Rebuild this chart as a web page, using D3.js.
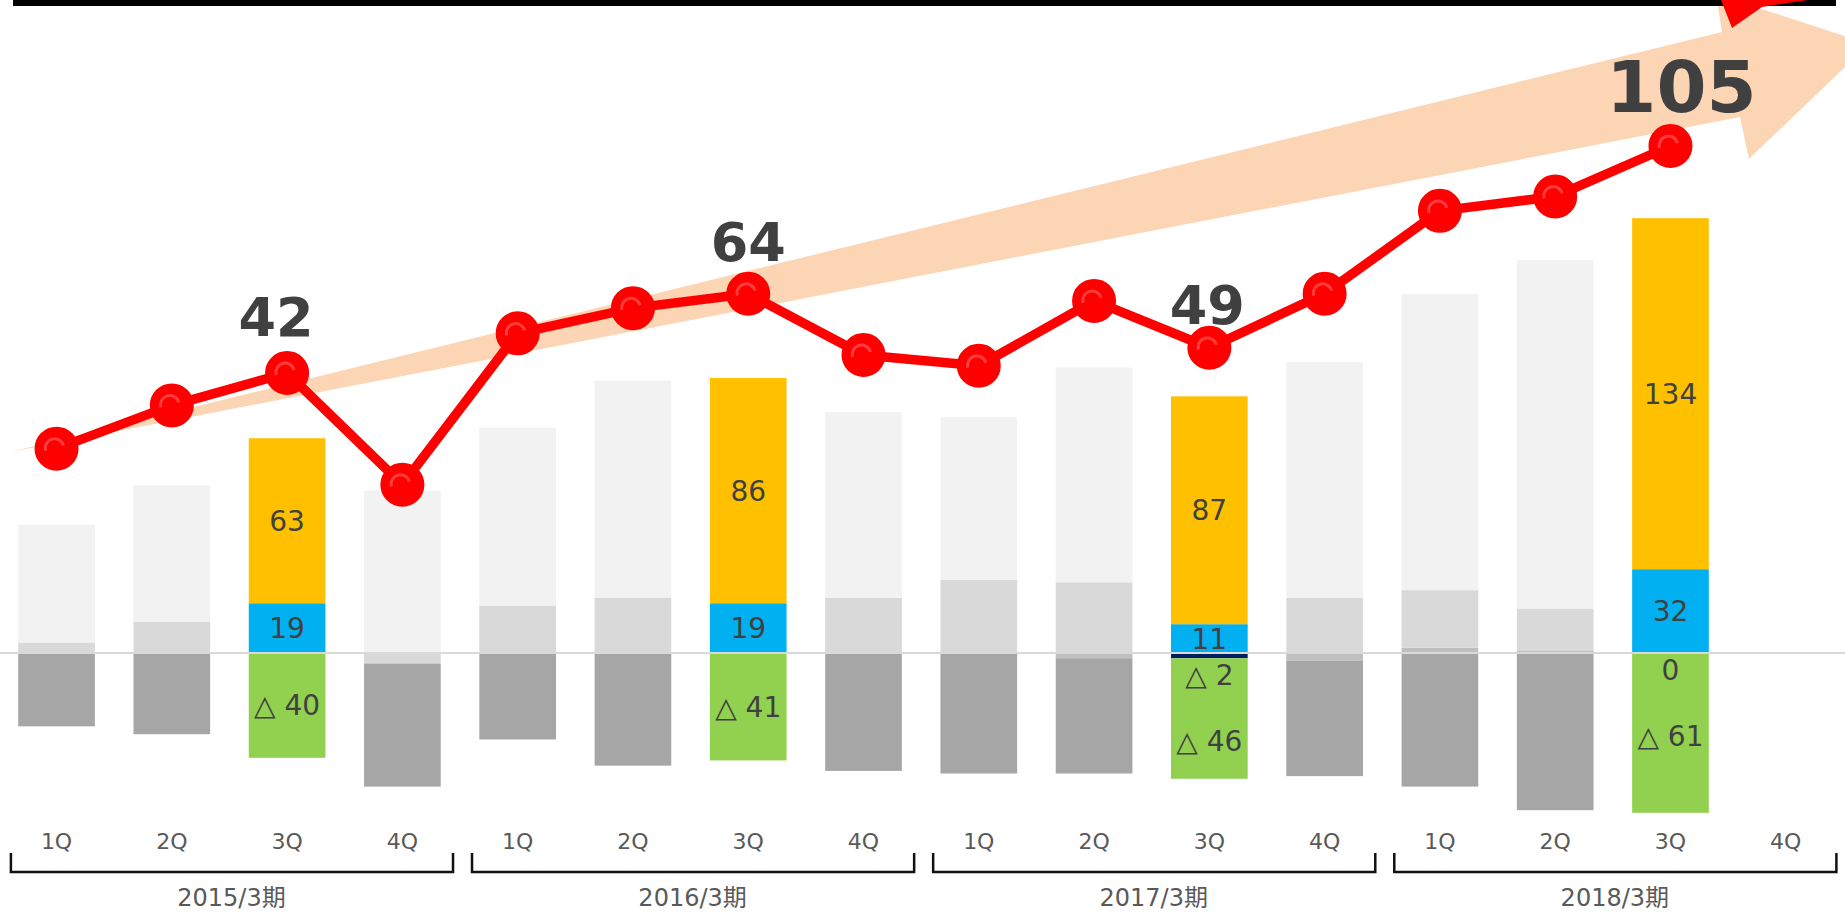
<!DOCTYPE html>
<html>
<head>
<meta charset="utf-8">
<script src="https://cdn.jsdelivr.net/npm/d3@7"></script>
<style>
  body { margin: 0; background: #fff; }
  svg { display: block; }
  text { font-family: "DejaVu Sans", "Noto Sans CJK JP", sans-serif; }
</style>
</head>
<body>
<svg class="chart"></svg>
<script>
// quarter labels and fiscal years
const quarters = ["1Q","2Q","3Q","4Q","1Q","2Q","3Q","4Q","1Q","2Q","3Q","4Q","1Q","2Q","3Q","4Q"];
const years = ["2015/3期","2016/3期","2017/3期","2018/3期"];

// stacked segments per quarter (null = no data)
const segA = [45, 52, 63, 62, 68, 83, 86, 71, 62, 82, 87, 90, 113, 133, 134, null];
const segB = [4, 12, 19, -4, 18, 21, 19, 21, 28, 27, 11, 21, 22, 16, 32, null];
const segC = [0, 0, null, 0, 0, 0, null, 0, 0, -2, -2, -3, 2, 1, 0, null];
const segD = [-28, -31, -40, -47, -33, -43, -41, -45, -46, -44, -46, -44, -51, -60, -61, null];

// total per quarter (red line, own scale)
const total = [21, 33, 42, 11, 53, 60, 64, 47, 44, 62, 49, 64, 87, 91, 105, null];

const width = 1845, height = 916;

const svg = d3.select(".chart")
  .attr("width", width)
  .attr("height", height);

// scales
const x = d3.scaleBand()
  .domain(d3.range(quarters.length))
  .range([-1.1, 1843.4])
  .paddingInner(0.335)
  .paddingOuter(0.1675);

const yBar = d3.scaleLinear().domain([-61, 166]).range([812.8, 218.2]);
const yLine = d3.scaleLinear().domain([0, 105]).range([524.3, 146]);

const hiColors = { A: "#ffc000", B: "#00b0f0", C: "#002060", D: "#92d050" };
const loColors = { A: "#f2f2f2", B: "#d9d9d9", C: "#bfbfbf", D: "#a6a6a6" };
const isHi = i => quarters[i] === "3Q" && segA[i] !== null;

// big background arrow
svg.append("path")
  .attr("d", "M10,452 L1740,117 L1749,159 L1869,44 L1716,-6 L1722,32 Z")
  .attr("fill", "#fcd5b5");

// top rule
svg.append("rect")
  .attr("x", 13).attr("y", 0)
  .attr("width", 1823).attr("height", 6)
  .attr("fill", "#000");

// tip of red arrow at the top
svg.append("path")
  .attr("d", "M1721,0 L1732,28 L1762,7 Q1786,3 1808,0 Z")
  .attr("fill", "#ff0000");

// stacked bars
const rows = d3.range(quarters.length).map(i => ({
  i: i,
  A: segA[i] ?? 0, B: segB[i] ?? 0, C: segC[i] ?? 0, D: segD[i] ?? 0
}));

const stacked = d3.stack()
  .keys(["C", "B", "A", "D"])
  .offset(d3.stackOffsetDiverging)(rows);

svg.append("g").selectAll("g")
  .data(stacked)
  .enter()
  .append("g")
  .each(function (s) {
    d3.select(this).selectAll("rect")
      .data(s.filter(d => d[1] !== d[0]))
      .enter()
      .append("rect")
        .attr("x", d => x(d.data.i))
        .attr("width", x.bandwidth())
        .attr("y", d => yBar(Math.max(d[0], d[1])))
        .attr("height", d => Math.abs(yBar(d[0]) - yBar(d[1])))
        .attr("fill", d => (isHi(d.data.i) ? hiColors : loColors)[s.key]);
  });

// zero line
svg.append("line")
  .attr("x1", 0).attr("x2", width)
  .attr("y1", yBar(0)).attr("y2", yBar(0))
  .attr("stroke", "#d9d9d9")
  .attr("stroke-width", 2);

// value labels inside highlighted bars
const fmt = v => v < 0 ? "△ " + (-v) : String(v);
const labels = [];
stacked.forEach(s => {
  s.forEach(d => {
    const i = d.data.i;
    if (!isHi(i)) return;
    const v = { A: segA, B: segB, C: segC, D: segD }[s.key][i];
    if (v === null) return;
    labels.push({ key: s.key, i: i, v: v, y0: d[0], y1: d[1] });
  });
});
labels.forEach(l => {
  const mid = (yBar(l.y0) + yBar(l.y1)) / 2;
  if (l.key === "C") {
    l.cy = Math.max(yBar(l.y0), yBar(l.y1)) + 17;
  } else {
    l.cy = mid;
  }
});
labels.forEach(l => {
  if (l.key === "D") {
    const c = labels.find(o => o.key === "C" && o.i === l.i);
    if (c) l.cy = Math.max(l.cy, c.cy + 66);
  }
});

svg.append("g").selectAll("text")
  .data(labels)
  .enter()
  .append("text")
    .attr("x", d => x(d.i) + x.bandwidth() / 2)
    .attr("y", d => d.cy)
    .attr("dy", "0.36em")
    .attr("text-anchor", "middle")
    .attr("font-size", 28)
    .attr("fill", "#404040")
    .text(d => fmt(d.v));

// red total line
const pts = total.map((v, i) => ({ i, v })).filter(d => d.v !== null);
const cx = d => x(d.i) + x.bandwidth() / 2;

svg.append("path")
  .datum(pts)
  .attr("d", d3.line().x(cx).y(d => yLine(d.v)))
  .attr("fill", "none")
  .attr("stroke", "#ff0000")
  .attr("stroke-width", 9.5)
  .attr("stroke-linejoin", "round");

const mk = svg.append("g").selectAll("g")
  .data(pts)
  .enter()
  .append("g")
    .attr("transform", d => `translate(${cx(d)},${yLine(d.v)})`);

mk.append("circle")
  .attr("r", 18.5)
  .attr("fill", "#ff0000")
  .attr("stroke", "#ff0000")
  .attr("stroke-width", 7);

// faint glossy crescent in each marker
mk.append("path")
  .attr("d", "M-11,2 A9,9 0 0 1 7,-3")
  .attr("fill", "none")
  .attr("stroke", "#ff3c3c")
  .attr("stroke-width", 3);

// big total labels on 3Q points
const bigOffset = { 2: [-11, -37], 6: [0, -33], 10: [-2, -24], 14: [11, -34] };
svg.append("g").selectAll("text")
  .data(pts.filter(d => quarters[d.i] === "3Q"))
  .enter()
  .append("text")
    .attr("x", d => cx(d) + bigOffset[d.i][0])
    .attr("y", d => yLine(d.v) + bigOffset[d.i][1])
    .attr("text-anchor", "middle")
    .attr("font-weight", "bold")
    .attr("font-size", d => d.v > 100 ? 72 : 54)
    .attr("fill", "#404040")
    .text(d => d.v);

// quarter axis labels
svg.append("g").selectAll("text")
  .data(quarters)
  .enter()
  .append("text")
    .attr("x", (d, i) => x(i) + x.bandwidth() / 2)
    .attr("y", 849)
    .attr("text-anchor", "middle")
    .attr("font-size", 22)
    .attr("fill", "#595959")
    .text(d => d);

// year brackets
const half = x.step() / 2;
const grp = svg.append("g").selectAll("g")
  .data(years)
  .enter()
  .append("g");

grp.append("path")
  .attr("d", (d, k) => {
    const x1 = x(k * 4) + x.bandwidth() / 2 - half + 12;
    const x2 = x(k * 4 + 3) + x.bandwidth() / 2 + half - 7;
    return `M${x1},853 V872 H${x2} V853`;
  })
  .attr("fill", "none")
  .attr("stroke", "#111")
  .attr("stroke-width", 2.5);

grp.append("text")
  .attr("x", (d, k) => (x(k * 4) + x(k * 4 + 3) + x.bandwidth()) / 2 + 2)
  .attr("y", 906)
  .attr("text-anchor", "middle")
  .attr("font-size", 24)
  .attr("fill", "#595959")
  .text(d => d);
</script>
</body>
</html>
